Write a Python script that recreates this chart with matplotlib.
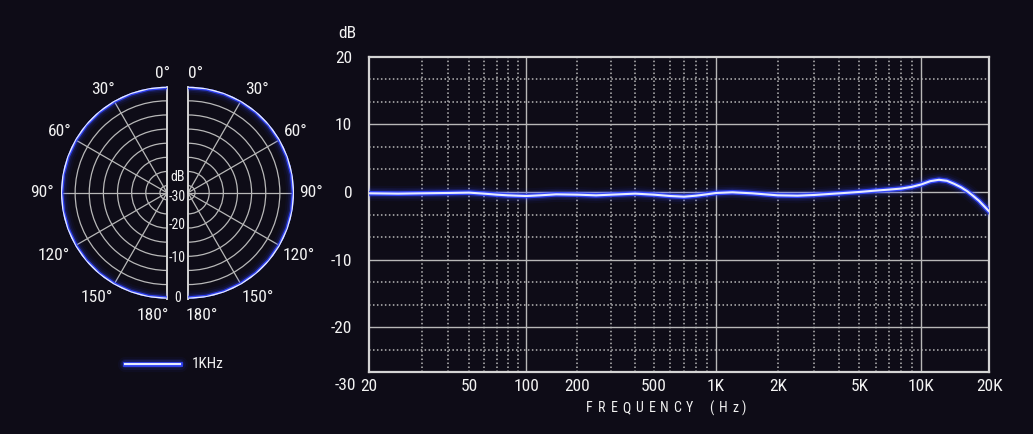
import numpy as np
import matplotlib
matplotlib.use("Agg")
import matplotlib.pyplot as plt

plt.rcParams['font.family'] = ['Roboto Condensed', 'Liberation Sans Narrow', 'DejaVu Sans', 'Roboto']
plt.rcParams['font.stretch'] = 'condensed'
plt.rcParams['axes.unicode_minus'] = False

# ---------------- data ----------------
freq_hz = [20, 25, 30, 40, 50, 60, 70, 80, 100, 120, 150, 200, 250, 300, 400, 500,
           600, 700, 800, 900, 1000, 1200, 1500, 2000, 2500, 3000, 4000, 5000,
           6000, 7000, 8000, 9000, 10000, 11000, 12000, 13000, 14000, 15000,
           16000, 17000, 18000, 20000]
response_db = [-0.2, -0.25, -0.2, -0.15, -0.1, -0.25, -0.4, -0.5, -0.6, -0.5, -0.35,
               -0.4, -0.5, -0.4, -0.25, -0.4, -0.6, -0.7, -0.55, -0.35, -0.15, -0.05,
               -0.2, -0.5, -0.55, -0.45, -0.2, 0.0, 0.2, 0.35, 0.5, 0.75, 1.1, 1.6,
               1.8, 1.65, 1.2, 0.7, 0.1, -0.6, -1.3, -2.9]

polar_angles_deg = [0, 10, 20, 30, 40, 50, 60, 70, 80, 90, 100, 110, 120, 130, 140,
                    150, 160, 170, 180]
polar_1khz_db = [0, 0, 0, 0, 0, 0, 0, 0, 0, 0, 0, 0, 0, 0, 0, 0, 0, 0, 0]

x_tick_values = [20, 50, 100, 200, 500, 1000, 2000, 5000, 10000, 20000]
x_tick_labels = ['20', '50', '100', '200', '500', '1K', '2K', '5K', '10K', '20K']
y_tick_values = [20, 10, 0, -10, -20]
y_tick_labels = ['20', '10', '0', '-10', '-20']
x_major_grid = [100, 1000, 10000]
x_minor_grid = [30, 40, 50, 60, 70, 80, 90, 200, 300, 400, 500, 600, 700, 800, 900,
                2000, 3000, 4000, 5000, 6000, 7000, 8000, 9000]
y_major_grid = [10, 0, -10, -20]
y_minor_grid = [50/3, 40/3, 20/3, 10/3, -10/3, -20/3, -40/3, -50/3, -70/3]
polar_rings_db = [-28, -24, -20, -16, -12, -8, -4]
polar_spokes_deg = [30, 60, 90, 120, 150]
angle_labels = ['0°', '30°', '60°', '90°', '120°', '150°', '180°']
x_title_chars = ['F', 'R', 'E', 'Q', 'U', 'E', 'N', 'C', 'Y', '(', 'H', 'z', ')']

# ---------------- style ----------------
BG = '#0e0c17'
TXT = '#f2f2f2'
GRID = '#b8b8b8'
SPINE = '#d4d4d4'
BLUE = '#3346ff'
CORE = '#e6ebff'
FS = 12.5

W, H = 1033, 434
fig = plt.figure(figsize=(W / 100, H / 100), dpi=100, facecolor=BG)


def rect(x, y, w, h):
    return [x / W, 1 - (y + h) / H, w / W, h / H]


def glow_plot(ax, x, y):
    for lw, a in [(11, 0.05), (8, 0.09), (5.5, 0.2)]:
        ax.plot(x, y, color=BLUE, lw=lw, alpha=a, solid_capstyle='round', zorder=5)
    ax.plot(x, y, color=BLUE, lw=3.4, alpha=0.95, zorder=6)
    ax.plot(x, y, color=CORE, lw=1.5, zorder=7)


# ---------------- frequency response ----------------
LOGS = np.log10([20, 30, 50, 100, 200, 500, 1000, 10000, 20000])
POS = np.array([368.7, 421.7, 468.7, 526.0, 577.3, 653.7, 716.0, 921.0, 989.3])


def fwd(f):
    f = np.asarray(f, dtype=float)
    with np.errstate(divide='ignore', invalid='ignore'):
        lf = np.log10(np.where(f > 0, f, 1e-9))
    return np.interp(lf, LOGS, POS)


def inv(p):
    p = np.asarray(p, dtype=float)
    return 10 ** np.interp(p, POS, LOGS)


ax = fig.add_axes(rect(369, 56.7, 620.3, 315.6))
ax.set_facecolor(BG)
ax.set_xscale('function', functions=(fwd, inv))
ax.set_xlim(20, 20000)
ax.set_ylim(-80 / 3, 20)

for f in x_major_grid:
    ax.axvline(f, color=GRID, lw=1.0, zorder=1)
for f in x_minor_grid:
    ax.axvline(f, color=GRID, lw=1.1, ls=(0, (1, 1.6)), zorder=1)
for v in y_major_grid:
    ax.axhline(v, color=GRID, lw=1.0, zorder=1)
for v in y_minor_grid:
    ax.axhline(v, color=GRID, lw=1.1, ls=(0, (1, 1.6)), zorder=1)

glow_plot(ax, freq_hz, response_db)

for s in ax.spines.values():
    s.set_color(SPINE)
    s.set_linewidth(1.6)
ax.set_xticks(x_tick_values)
ax.set_xticklabels(x_tick_labels)
ax.set_xticks([], minor=True)
ax.set_yticks(y_tick_values)
ax.set_yticklabels(y_tick_labels)
ax.set_yticks([], minor=True)
ax.tick_params(axis='both', length=0, colors=TXT, labelsize=FS)
ax.tick_params(axis='x', pad=5)
ax.tick_params(axis='y', pad=12)

fig.text(356 / W, 1 - 386 / H, '-30', color=TXT, fontsize=FS, ha='right', va='center')
fig.text(347 / W, 1 - 33 / H, 'dB', color=TXT, fontsize=FS, ha='center', va='center')

# letter-spaced axis title
title_x = [589, 601.6, 614.2, 626.8, 639.4, 652, 664.6, 677.2, 689.8, 711, 723.5, 735, 744]
for ch, x in zip(x_title_chars, title_x):
    fig.text(x / W, 1 - 408 / H, ch, color=TXT, fontsize=10, ha='center', va='center')

# ---------------- polar halves ----------------
R = 106
CY = 192.7
th = np.deg2rad(polar_angles_deg)
for side, half_left in (('left', 167 - R), ('right', 188)):
    cx = half_left + R / 2
    pax = fig.add_axes(rect(cx - R, CY - R, 2 * R, 2 * R), projection='polar')
    pax.set_facecolor(BG)
    pax.set_theta_zero_location('N')
    pax.set_theta_direction(1 if side == 'left' else -1)
    pax.set_thetamin(0)
    pax.set_thetamax(180)
    pax.set_ylim(-30, 0)
    pax.set_rgrids(polar_rings_db, labels=[''] * len(polar_rings_db))
    pax.set_thetagrids(polar_spokes_deg, labels=[''] * len(polar_spokes_deg))
    pax.grid(True, color=GRID, lw=0.9)
    pax.tick_params(length=0)
    pax.spines['polar'].set_visible(False)
    for k in ('start', 'end'):
        pax.spines[k].set_color(SPINE)
        pax.spines[k].set_linewidth(1.4)
    if 'inner' in pax.spines:
        pax.spines['inner'].set_visible(False)
    glow_plot(pax, th, polar_1khz_db)

left_lbl_pos = [(163, 73), (103, 90), (60, 131), (42, 192), (54, 255), (97, 298), (153, 316)]
right_lbl_pos = [(196, 73), (257, 90), (296, 131), (311, 192), (299, 255), (258, 298), (202, 316)]
for lbl, (x, y) in zip(angle_labels, left_lbl_pos):
    fig.text(x / W, 1 - y / H, lbl, color=TXT, fontsize=FS, ha='center', va='center')
for lbl, (x, y) in zip(angle_labels, right_lbl_pos):
    fig.text(x / W, 1 - y / H, lbl, color=TXT, fontsize=FS, ha='center', va='center')

for lbl, y in [('dB', 177), ('-30', 197), ('-20', 225), ('-10', 258), ('0', 298)]:
    fig.text(177.5 / W, 1 - y / H, lbl, color=TXT, fontsize=10, ha='center', va='center')

# ---------------- legend ----------------
lax = fig.add_axes(rect(0, 0, W, H), facecolor='none')
lax.set_xlim(0, W)
lax.set_ylim(H, 0)
lax.axis('off')
lax.set_zorder(-1)
glow_plot(lax, [125, 180], [364, 364])
fig.text(192 / W, 1 - 364 / H, '1KHz', color=TXT, fontsize=11, ha='left', va='center')

fig.savefig('out.png', dpi=100, facecolor=BG)
